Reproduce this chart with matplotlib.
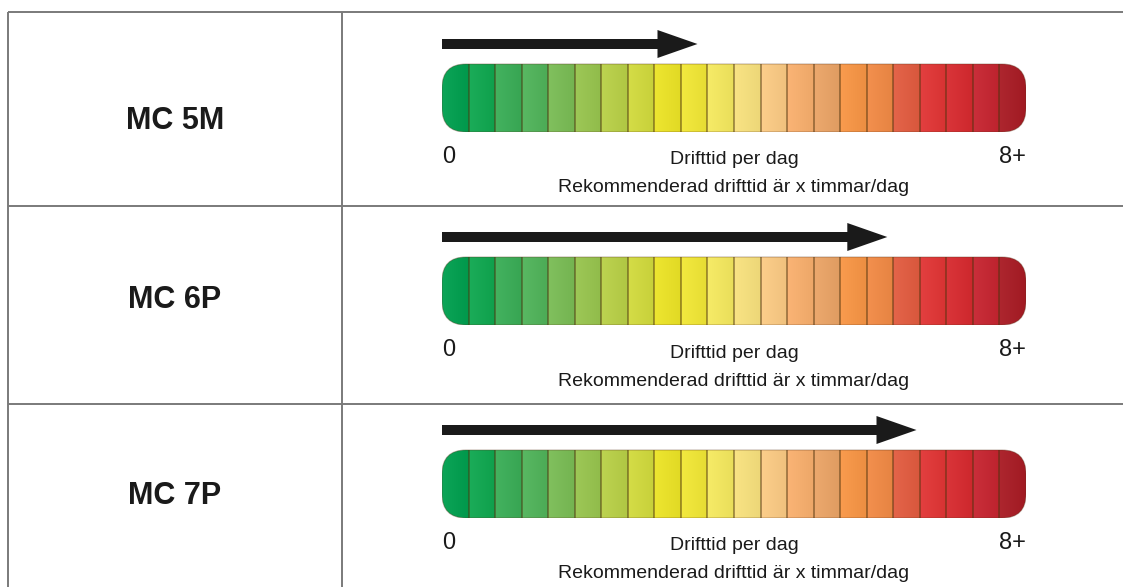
import numpy as np
import matplotlib.pyplot as plt
from matplotlib.colors import to_rgb
from matplotlib.patches import FancyBboxPatch

# data
models = ['MC 5M', 'MC 6P', 'MC 7P']
hours = [3.5, 6.1, 6.5]
max_hours = 8
scale_labels = ['0', '8+']
axis_label = 'Drifttid per dag'
note_label = 'Rekommenderad drifttid är x timmar/dag'
segment_colors = ['#00a04f', '#0fa850', '#3aae57', '#50b45a', '#7abd55', '#98c54e',
                  '#b9d147', '#d2db3d', '#ede526', '#f2e835', '#f6ea5f', '#f9e27e',
                  '#fccb84', '#fab06e', '#eba466', '#f99645', '#f28a45', '#e35c40',
                  '#e23535', '#d82a2f', '#c72430', '#a91b24']

plt.rcParams['font.family'] = ['Liberation Sans', 'DejaVu Sans']

W, H = 1123, 587
fig = plt.figure(figsize=(W / 100, H / 100), dpi=100)
bg = fig.add_axes([0, 0, 1, 1])
bg.set_xlim(0, W)
bg.set_ylim(H, 0)
bg.axis('off')

# table grid
grid = dict(color='#7a7a7a', lw=1.4, solid_capstyle='butt')
bg.plot([8, W], [12, 12], **grid)
bg.plot([8, 8], [12, H], **grid)
bg.plot([342, 342], [12, H], **grid)
for y in [206, 404]:
    bg.plot([8, W], [y, y], **grid)

label_y = [121, 300, 496]
bar_left, bar_right = 442, 1026
bar_h = 68
row_step = 193
radius = 24


def shaded(c, n=32):
    # slightly lighter on the left of a segment, darker near the divider
    rgb = np.array(to_rgb(c))
    t = np.linspace(0, 1, n)[:, None]
    light = rgb + (1 - rgb) * 0.05
    dark = rgb * 0.95
    row = light * (1 - t) + dark * t
    return row[None, :, :]


for i, (name, h) in enumerate(zip(models, hours)):
    top = 64 + row_step * i
    bg.text(175, label_y[i], name, ha='center', va='center',
            fontsize=22, fontweight='bold', color='#1a1a1a')

    ax = fig.add_axes([bar_left / W, 1 - (top + bar_h) / H,
                       (bar_right - bar_left) / W, (bar_h + 40) / H])
    ax.axis('off')

    px_per_unit = (bar_right - bar_left) / max_hours
    clip = FancyBboxPatch((0, 0), max_hours, bar_h,
                          boxstyle='round,pad=0,rounding_size=%g' % (radius / px_per_unit),
                          mutation_aspect=px_per_unit, fc='none',
                          ec=(0.35, 0.2, 0.1, 0.35), lw=0.8, zorder=3)
    ax.add_patch(clip)
    edges = np.linspace(0, max_hours, len(segment_colors) + 1)
    for k, c in enumerate(segment_colors):
        im = ax.imshow(shaded(c), extent=(edges[k], edges[k + 1], bar_h, 0),
                       aspect='auto', interpolation='bilinear', zorder=1)
        im.set_clip_path(clip)
    ax.set_xlim(0, max_hours)
    ax.set_ylim(bar_h, -40)
    div = ax.vlines(edges[1:-1], 0, bar_h, color=(0.3, 0.2, 0.05, 0.6), lw=1.1, zorder=2)
    div.set_clip_path(clip)

    ax.annotate('', xy=(h, -20), xytext=(0, -20),
                arrowprops=dict(arrowstyle='simple,head_length=40,head_width=28,tail_width=10',
                                mutation_scale=0.72, color='#1a1a1a', lw=0,
                                shrinkA=0, shrinkB=0))

    ty = top - 64
    bg.text(bar_left, 157 + ty, scale_labels[0], ha='left', va='center',
            fontsize=17, color='#1a1a1a')
    bg.text(bar_right, 157 + ty, scale_labels[1], ha='right', va='center',
            fontsize=17, color='#1a1a1a')
    bg.text(734, 160 + ty, axis_label, ha='center', va='center',
            fontsize=14, color='#1a1a1a')
    bg.text(734, 188 + ty, note_label, ha='center', va='center',
            fontsize=14, color='#1a1a1a')

plt.savefig('out.png', dpi=100)
